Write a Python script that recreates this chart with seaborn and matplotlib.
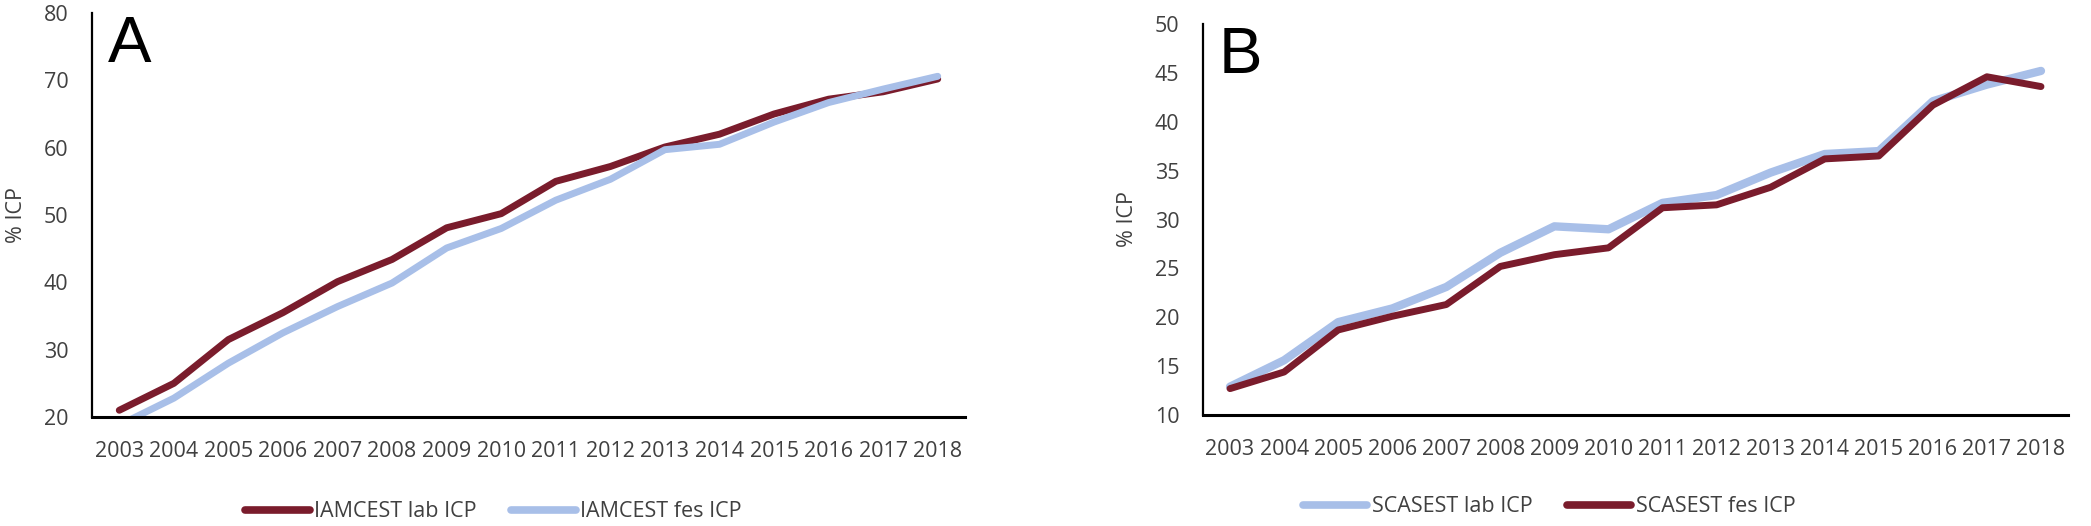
import matplotlib
matplotlib.use("Agg")
import matplotlib.pyplot as plt
import seaborn as sns
import pandas as pd

years = list(range(2003, 2019))

# Panel A (IAMCEST)
iam_lab = [21.0, 25.0, 31.5, 35.5, 40.1, 43.4, 48.1, 50.2, 55.0, 57.2, 60.1, 62.0, 65.0, 67.2, 68.3, 70.2]
iam_fes = [18.8, 22.8, 28.0, 32.5, 36.4, 39.9, 45.1, 48.0, 52.2, 55.3, 59.7, 60.5, 63.8, 66.7, 68.7, 70.6]

# Panel B (SCASEST)
sca_lab = [12.9, 15.6, 19.5, 20.9, 23.1, 26.6, 29.3, 29.0, 31.7, 32.5, 34.8, 36.7, 37.0, 42.1, 43.8, 45.2]
sca_fes = [12.7, 14.4, 18.7, 20.1, 21.3, 25.2, 26.4, 27.1, 31.2, 31.5, 33.3, 36.2, 36.5, 41.7, 44.6, 43.6]

ylabel = "% ICP"

RED = "#7a1c2c"
BLUE = "#a8bfe8"
GRAY = "#404040"

sns.set_theme(style="white")
plt.rcParams["font.family"] = ["Open Sans", "DejaVu Sans"]

fig = plt.figure(figsize=(20.91, 5.26), dpi=100)
axA = fig.add_axes([92 / 2091, 1 - 417 / 526, 873 / 2091, 404 / 526])
axB = fig.add_axes([1203 / 2091, 1 - 415 / 526, 865 / 2091, 391 / 526])

dfA = pd.DataFrame({
    "year": years * 2,
    "value": iam_lab + iam_fes,
    "series": ["IAMCEST lab ICP"] * len(years) + ["IAMCEST fes ICP"] * len(years),
})
dfB = pd.DataFrame({
    "year": years * 2,
    "value": sca_lab + sca_fes,
    "series": ["SCASEST lab ICP"] * len(years) + ["SCASEST fes ICP"] * len(years),
})

sns.lineplot(data=dfA, x="year", y="value", hue="series",
             palette={"IAMCEST lab ICP": RED, "IAMCEST fes ICP": BLUE},
             linewidth=5.0, ax=axA, solid_capstyle="round", legend=True)
sns.lineplot(data=dfB, x="year", y="value", hue="series",
             palette={"SCASEST lab ICP": BLUE, "SCASEST fes ICP": RED},
             linewidth=5.0, ax=axB, solid_capstyle="round", legend=True)
# lab line in B is a little thicker
axB.get_lines()[0].set_linewidth(6.0)

for ax, ylim, yt, letter, legx in [
    (axA, (20, 80), range(20, 81, 10), "A", 0.46),
    (axB, (10, 50), range(10, 51, 5), "B", 0.40),
]:
    ax.set_xlim(2002.5, 2018.5)
    ax.set_ylim(*ylim)
    ax.set_xticks(years)
    ax.set_xticklabels([str(y) for y in years])
    ax.set_yticks(list(yt))
    ax.tick_params(axis="both", length=0, labelsize=15.5, labelcolor=GRAY)
    ax.tick_params(axis="x", pad=17)
    ax.tick_params(axis="y", pad=17)
    for s in ["top", "right"]:
        ax.spines[s].set_visible(False)
    ax.spines["left"].set_color("black")
    ax.spines["left"].set_linewidth(1.6)
    ax.spines["bottom"].set_color("black")
    ax.spines["bottom"].set_linewidth(2.2)
    ax.set_xlabel("")
    ax.set_ylabel(ylabel, fontsize=15.5, color=GRAY, labelpad=12)
    ax.grid(False)
    ax.text(0.018, 0.995, letter, transform=ax.transAxes, fontsize=47,
            color="black", va="top", ha="left", family=["Liberation Sans", "DejaVu Sans"])
    leg = ax.legend(loc="center", bbox_to_anchor=(legx, -0.235), ncol=2,
                    frameon=False, fontsize=15.5, handlelength=3.0,
                    columnspacing=1.6, handletextpad=0.2)
    for t in leg.get_texts():
        t.set_color(GRAY)
    for l in leg.get_lines():
        l.set_linewidth(5.5)
        l.set_solid_capstyle("round")

fig.savefig("out.png", dpi=100)
